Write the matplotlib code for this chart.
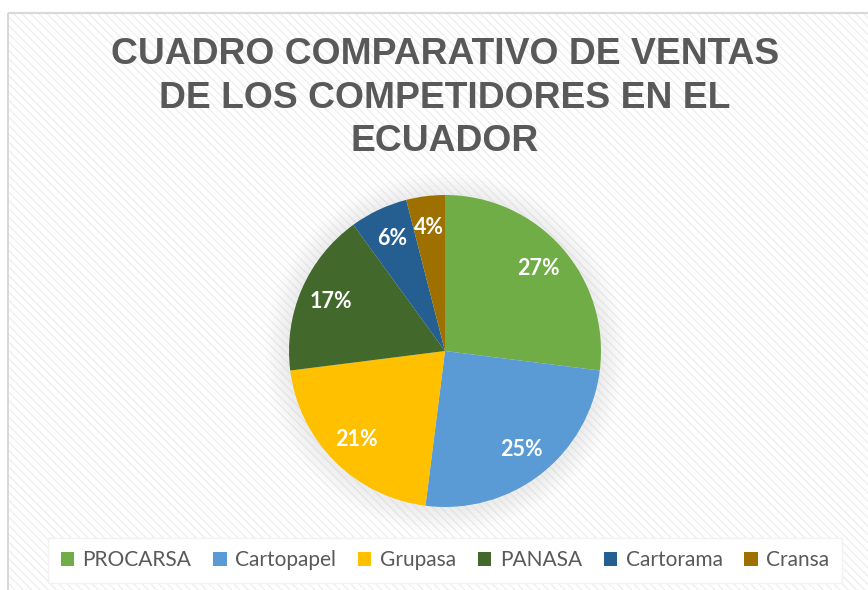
import matplotlib
matplotlib.use("Agg")
import matplotlib.pyplot as plt
from matplotlib.patches import Rectangle, Circle, Patch

companies = ["PROCARSA", "Cartopapel", "Grupasa", "PANASA", "Cartorama", "Cransa"]
shares = [27, 25, 21, 17, 6, 4]
colors = ["#70AD47", "#5B9BD5", "#FFC000", "#43682B", "#255E91", "#9E7000"]
title = "CUADRO COMPARATIVO DE VENTAS\nDE LOS COMPETIDORES EN EL\nECUADOR"

W, H = 868, 590
fig = plt.figure(figsize=(W / 100, H / 100), dpi=100)
fig.patch.set_facecolor("white")

# chart area with diagonal stripe background
bgax = fig.add_axes([0, 0, 1, 1], zorder=-1)
bgax.set_xlim(0, W)
bgax.set_ylim(H, 0)
bgax.axis("off")
bgax.add_patch(Rectangle((8, 13), W, H, facecolor="white", edgecolor="#efefef",
                         hatch="\\\\\\\\", linewidth=0))
bgax.add_patch(Rectangle((8, 13), W, H, facecolor="none", edgecolor="#d9d9d9",
                         linewidth=1.5))

fig.text(445 / W, 1 - 37 / H, title, ha="center", va="top", fontsize=26.8,
         fontweight="bold", color="#595959", family="Liberation Sans", linespacing=1.32)

cx, cy, r = 445, 351, 156
ax = fig.add_axes([(cx - r) / W, (H - cy - r) / H, 2 * r / W, 2 * r / H])

# soft shadow behind the pie
for k in range(6):
    ax.add_patch(Circle((0, -0.01), 1.0 + 0.025 * (6 - k), color="#999999", alpha=0.025,
                        lw=0, clip_on=False))

wedges, texts = ax.pie(shares, colors=colors, startangle=90, counterclock=False,
                       radius=1, labels=[f"{v}%" for v in shares], labeldistance=0.8,
                       wedgeprops=dict(linewidth=0))
ax.set_xlim(-1, 1)
ax.set_ylim(-1, 1)
ax.axis("off")
for t in texts:
    t.set_color("white")
    t.set_fontsize(15.5)
    t.set_fontweight("bold")
    t.set_family("Lato")
    t.set_ha("center")
    t.set_va("center")

handles = [Patch(facecolor=c, edgecolor="none") for c in colors]
leg = fig.legend(handles, companies, loc="center", bbox_to_anchor=(445 / W, 1 - 560 / H),
                 ncol=6, frameon=True, fancybox=False, facecolor="white", edgecolor="#f2f2f2",
                 prop={"family": "Lato", "size": 15}, handlelength=0.65, handleheight=0.65,
                 handletextpad=0.4, columnspacing=1.05, borderpad=0.6, framealpha=1)
for t in leg.get_texts():
    t.set_color("#595959")

fig.savefig("out.png", dpi=100, facecolor="white")
